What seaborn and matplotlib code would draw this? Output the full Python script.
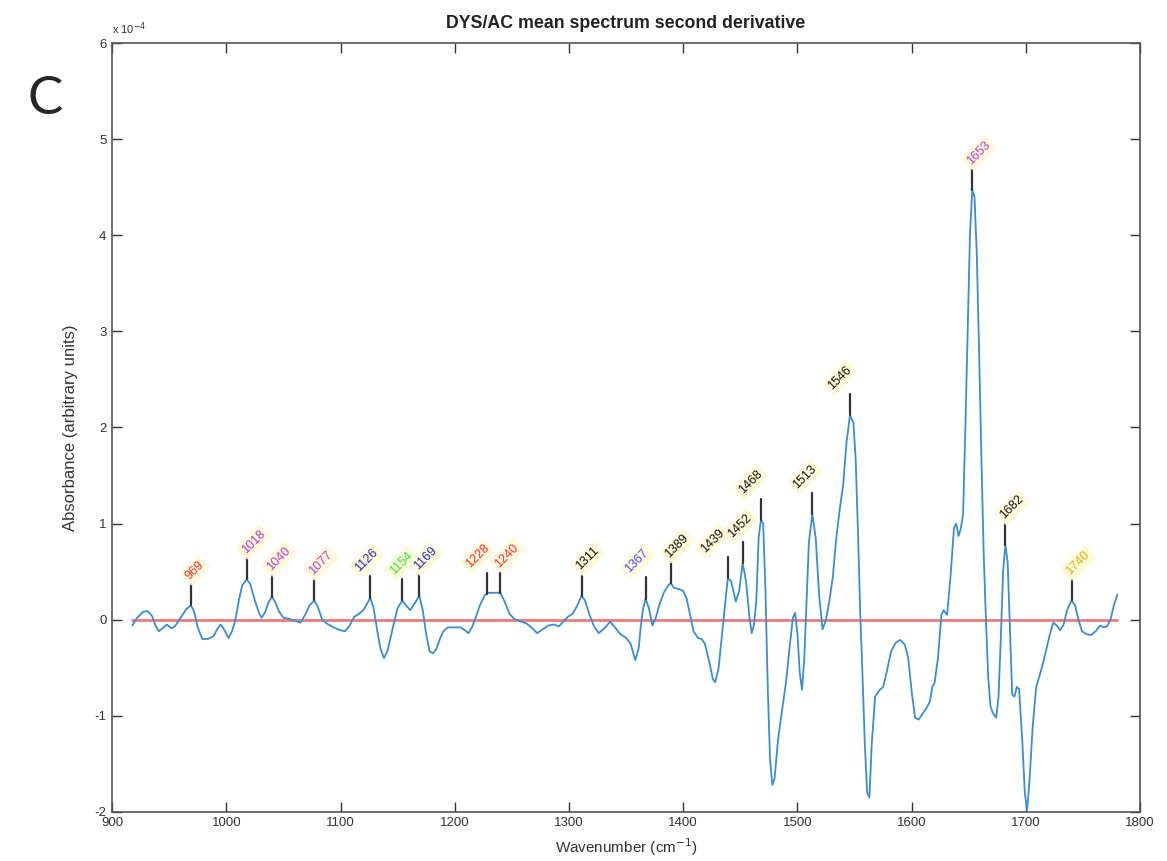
import numpy as np
import pandas as pd
import matplotlib
matplotlib.use('Agg')
import matplotlib.pyplot as plt
import seaborn as sns

# second derivative spectrum, values in units of 1e-4
wavenumber = [
    917.8, 922, 927, 931, 935, 938, 941, 944, 948, 952, 955, 960, 965, 969, 972, 975, 979, 984,
    989, 992, 995, 998, 1002, 1005, 1008, 1011, 1014, 1018, 1021, 1025, 1029, 1031, 1034, 1037,
    1040, 1043, 1046, 1050, 1055, 1060, 1065, 1069, 1073, 1077, 1080, 1084, 1088, 1094, 1100,
    1104, 1108, 1112, 1116, 1120, 1123, 1126, 1129, 1132, 1135, 1138, 1141, 1144, 1147, 1150,
    1154, 1158, 1161, 1165, 1169, 1172, 1175, 1178, 1181, 1184, 1187, 1190, 1194, 1200, 1205,
    1209, 1212, 1215, 1218, 1222, 1226, 1229, 1235, 1240, 1244, 1248, 1252, 1258, 1263, 1268,
    1272, 1277, 1282, 1287, 1291, 1295, 1299, 1303, 1307, 1311, 1314, 1318, 1322, 1326, 1331,
    1336, 1341, 1345, 1350, 1354, 1358, 1361, 1363, 1365, 1367, 1370, 1373, 1376, 1379, 1383,
    1387, 1389, 1392, 1396, 1400, 1403, 1406, 1409, 1413, 1416, 1419, 1423, 1426, 1428, 1431,
    1434, 1437, 1439, 1442, 1446, 1449, 1452, 1455, 1458, 1460, 1462, 1464, 1466, 1468, 1470,
    1472, 1474, 1476, 1478, 1480, 1483, 1487, 1490, 1493, 1496, 1498, 1500, 1502, 1504, 1506,
    1508, 1510, 1513, 1516, 1519, 1522, 1525, 1528, 1531, 1534, 1537, 1540, 1543, 1546, 1549,
    1551, 1553, 1555, 1557, 1559, 1561, 1563, 1565, 1568, 1572, 1575, 1578, 1582, 1586, 1590,
    1594, 1597, 1600, 1603, 1606, 1610, 1613, 1616, 1618, 1620, 1623, 1626, 1628, 1631, 1634,
    1637, 1639, 1641, 1643, 1645, 1647, 1649, 1651, 1653, 1655, 1657, 1659, 1661, 1663, 1665,
    1667, 1669, 1671, 1674, 1676, 1678, 1680, 1682, 1684, 1686, 1688, 1690, 1692, 1694, 1697,
    1699, 1701, 1703, 1706, 1709, 1712, 1715, 1718, 1721, 1724, 1727, 1730, 1733, 1736, 1740,
    1743, 1746, 1749, 1753, 1757, 1761, 1765, 1768, 1771, 1774, 1777, 1780,
]
absorbance = [
    -0.06, 0.02, 0.08, 0.09, 0.04, -0.06, -0.12, -0.09, -0.05, -0.09, -0.07, 0.02, 0.11, 0.15,
    0.08, -0.08, -0.20, -0.20, -0.17, -0.10, -0.05, -0.10, -0.19, -0.12, 0.00, 0.20, 0.36, 0.42,
    0.37, 0.20, 0.06, 0.02, 0.08, 0.18, 0.24, 0.18, 0.09, 0.02, 0.01, -0.01, -0.03, 0.05, 0.15,
    0.20, 0.14, 0.00, -0.04, -0.08, -0.11, -0.12, -0.06, 0.03, 0.06, 0.10, 0.16, 0.23, 0.12,
    -0.10, -0.30, -0.40, -0.33, -0.18, -0.02, 0.12, 0.20, 0.14, 0.10, 0.17, 0.25, 0.10, -0.15,
    -0.33, -0.35, -0.30, -0.20, -0.12, -0.08, -0.08, -0.08, -0.11, -0.14, -0.08, 0.01, 0.15,
    0.25, 0.28, 0.28, 0.28, 0.18, 0.06, 0.01, -0.02, -0.04, -0.09, -0.14, -0.10, -0.06, -0.05,
    -0.07, -0.02, 0.03, 0.06, 0.14, 0.25, 0.20, 0.05, -0.07, -0.14, -0.09, -0.02, -0.09, -0.15,
    -0.19, -0.25, -0.42, -0.30, -0.05, 0.12, 0.22, 0.12, -0.06, 0.02, 0.15, 0.28, 0.36, 0.38,
    0.33, 0.32, 0.30, 0.22, 0.05, -0.12, -0.19, -0.20, -0.25, -0.45, -0.62, -0.65, -0.50, -0.15,
    0.20, 0.43, 0.40, 0.19, 0.30, 0.59, 0.40, 0.02, -0.14, -0.05, 0.20, 0.85, 1.04, 1.00, 0.30,
    -0.70, -1.45, -1.72, -1.65, -1.25, -0.90, -0.65, -0.30, 0.02, 0.07, -0.15, -0.55, -0.73,
    -0.40, 0.20, 0.80, 1.10, 0.85, 0.25, -0.10, 0.00, 0.20, 0.45, 0.85, 1.15, 1.40, 1.85, 2.13,
    2.05, 1.66, 0.90, 0.05, -0.60, -1.30, -1.80, -1.85, -1.30, -0.80, -0.73, -0.70, -0.55, -0.33,
    -0.24, -0.21, -0.26, -0.40, -0.75, -1.02, -1.04, -0.97, -0.92, -0.85, -0.70, -0.66, -0.40,
    0.05, 0.10, 0.05, 0.45, 0.95, 1.00, 0.87, 0.95, 1.10, 2.00, 3.00, 4.00, 4.47, 4.40, 3.80,
    2.80, 1.70, 0.70, 0.00, -0.60, -0.90, -0.97, -1.02, -0.80, -0.20, 0.50, 0.78, 0.60, -0.10,
    -0.78, -0.80, -0.70, -0.72, -1.30, -1.80, -1.98, -1.70, -1.10, -0.70, -0.58, -0.45, -0.30,
    -0.15, -0.03, -0.06, -0.11, -0.05, 0.10, 0.20, 0.15, 0.00, -0.12, -0.15, -0.16, -0.12,
    -0.06, -0.08, -0.07, 0.00, 0.15, 0.26,
]

# labelled peaks and their label colours
peaks = [969, 1018, 1040, 1077, 1126, 1154, 1169, 1228, 1240, 1311, 1367, 1389,
         1439, 1452, 1468, 1513, 1546, 1653, 1682, 1740]
peak_colors = ['#ff2a2a', '#c833c8', '#c833c8', '#c833c8', '#2a2ab8', '#33e633', '#2a2ab8',
               '#ff2a2a', '#ff2a2a', '#111111', '#4a4aff', '#111111', '#111111', '#111111',
               '#111111', '#111111', '#111111', '#c833c8', '#111111', '#e6b000']
# horizontal nudge of each label (pixels), so crowded ones don't overlap
label_dx = [0, 0, 0, 0, -10, -7, 0, -16, 0, 0, -15, 0, -22, -9, -17, -14, -17, 0, 0, 0]

df = pd.DataFrame({'Wavenumber': wavenumber, 'Absorbance': absorbance})

sns.set_style('ticks')
plt.rcParams['font.family'] = ['Liberation Sans', 'DejaVu Sans']
plt.rcParams['axes.unicode_minus'] = False

fig = plt.figure(figsize=(11.67, 8.61), dpi=100)
ax = fig.add_axes([0.096, 0.057, 0.881, 0.893])

sns.lineplot(data=df, x='Wavenumber', y='Absorbance', ax=ax, color='#3a8dd0', lw=1.3)
# zero line over the data range
ax.plot([wavenumber[0], wavenumber[-1]], [0, 0], color='#ee7b7b', lw=2, zorder=1)

# peak markers and labels
for p, c, dx in zip(peaks, peak_colors, label_dx):
    base = np.interp(p, wavenumber, absorbance)
    top = base + 0.22
    ax.plot([p, p], [base, top], color='#333333', lw=1.6, zorder=3)
    ax.annotate(str(p), xy=(p, top), xytext=(dx + 1, 2), textcoords='offset pixels',
                rotation=45, rotation_mode='anchor', ha='left', va='bottom',
                fontsize=9, color=c, zorder=4,
                bbox=dict(boxstyle='round,pad=0.25', fc='#fdfad6', ec='none', alpha=0.85))

ax.set_xlim(900, 1800)
ax.set_ylim(-2, 6)
ax.set_xticks(range(900, 1801, 100))
ax.set_yticks(range(-2, 7))
ax.tick_params(direction='in', top=True, right=True, length=7, width=1,
               labelsize=9.5, colors='#333333', pad=4)
for s in ax.spines.values():
    s.set_visible(True)
    s.set_color('#555555')
    s.set_linewidth(1.2)

ax.set_title('DYS/AC mean spectrum second derivative', fontsize=12.8,
             fontweight='bold', color='#222222', pad=11)
ax.set_xlabel('Wavenumber (cm$^{-1}$)', fontsize=11, color='#333333', labelpad=5)
ax.set_ylabel('Absorbance (arbitrary units)', fontsize=12, color='#333333', labelpad=12)
ax.text(0.0, 1.008, r'x 10$^{-4}$', transform=ax.transAxes, fontsize=8,
        ha='left', va='bottom', color='#333333')

fig.text(0.039, 0.884, 'C', fontsize=38, ha='center', va='center', family='Lato')

fig.savefig('out.png', dpi=100)
